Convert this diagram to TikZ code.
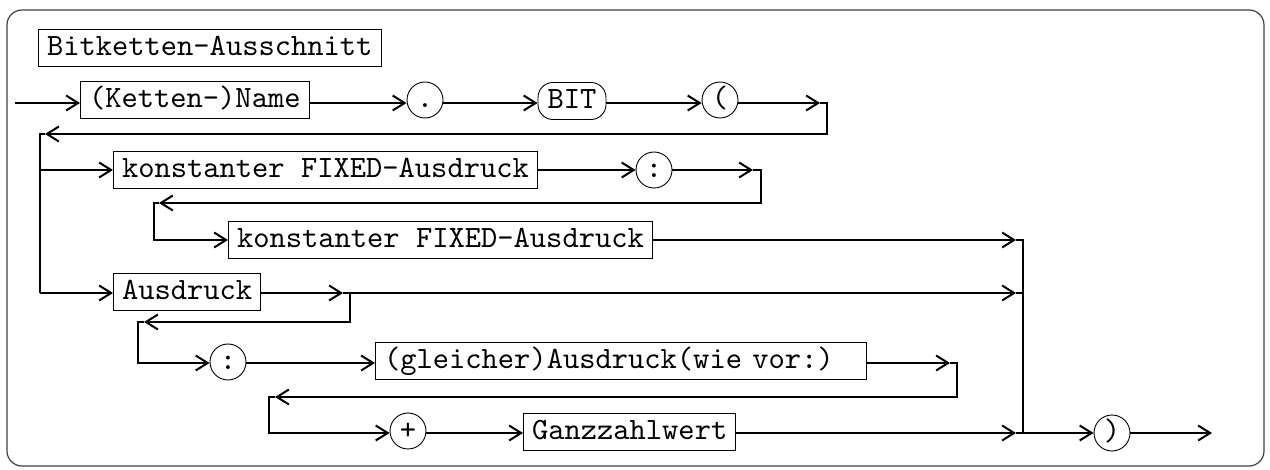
\documentclass[tikz,border=0pt]{standalone}
\usepackage{fontspec}
\setmonofont{lmmono10-regular.otf}
\usetikzlibrary{arrows.meta}
\begin{document}
\begin{tikzpicture}[x=1pt,y=-1pt,
  font=\fontsize{31}{37}\selectfont\ttfamily,
  tbox/.style={draw, line width=1pt, minimum height=37pt, inner xsep=8.5pt, inner ysep=0pt, anchor=west, text height=21pt, text depth=6pt},
  term/.style={draw, line width=0.9pt, circle, minimum size=36pt, inner sep=0pt, text height=21pt, text depth=5pt},
  kw/.style={draw, line width=0.9pt, rounded corners=15pt, minimum height=37pt, minimum width=68pt, inner sep=0pt, text height=21pt, text depth=6pt},
  conn/.style={line width=2.4pt, line join=miter},
  ->/.style={-{Straight Barb[length=12pt,width=15pt,line width=2pt]}},
  frame/.style={draw, line width=1.2pt, rounded corners=15pt, black!75}]
\useasboundingbox (0,0) rectangle (1270,470);
\draw[frame] (7,10) rectangle (1264,466);

\node[tbox] (title) at (38,48) {Bitketten-Ausschnitt};

% row 1
\coordinate (start) at (15,103);
\node[tbox] (name) at (80,100) {(Ketten-)Name};
\node[term] (dot) at (425,100) {.};
\node[kw] (bit) at (572,101) {BIT};
\node[term] (lp) at (720,100) {(};
\coordinate (a1) at (820,103);
\coordinate (c1) at (827,103);
\coordinate (c1b) at (827,134);
\coordinate (b1) at (45,134);
\coordinate (l1) at (40,134);
\coordinate (l2) at (40,170);
\coordinate (l3) at (40,293);

% row 2
\node[tbox] (fix1) at (113,170) {konstanter FIXED-Ausdruck};
\node[term] (col1) at (654,170) {:};
\coordinate (a2) at (753,170);
\coordinate (c2) at (761,170);
\coordinate (c2b) at (761,203);
\coordinate (b2) at (159,203);
\coordinate (l4) at (154,203);
\coordinate (l5) at (154,240);
\node[tbox] (fix2) at (228,240) {konstanter FIXED-Ausdruck};
\coordinate (a3) at (1016,240);
\coordinate (r1) at (1023,240);

% row Ausdruck
\node[tbox] (ausd) at (113,292) {Ausdruck};
\coordinate (a4) at (343,293);
\coordinate (c4) at (350,293);
\coordinate (a5) at (1016,293);
\coordinate (r2) at (1023,293);
\coordinate (c4b) at (350,322);
\coordinate (b4) at (144,322);
\coordinate (l6) at (138,322);
\coordinate (l7) at (138,363);
\node[term] (col2) at (228,362) {:};
\node[tbox, text width=474pt, align=left] (gl) at (375,361) {(gleicher)Ausdruck(wie vor:)};
\coordinate (a6) at (950,363);
\coordinate (c6) at (957,363);
\coordinate (c6b) at (957,397);
\coordinate (b6) at (275,397);
\coordinate (l8) at (269,397);
\coordinate (l9) at (269,433);
\node[term] (plus) at (408,431) {+};
\node[tbox] (ganz) at (523,432) {Ganzzahlwert};
\coordinate (a7) at (1016,433);
\coordinate (r3) at (1023,433);
\node[term] (rp) at (1112,433) {)};
\coordinate (end) at (1212,433);

% connectors row 1
\draw[conn,->] (start) -- (name.west |- start);
\draw[conn,->] (name.east |- start) -- (dot.west |- start);
\draw[conn,->] (dot.east |- start) -- (bit.west |- start);
\draw[conn,->] (bit.east |- start) -- (lp.west |- start);
\draw[conn,->] (lp.east |- start) -- (a1);
\draw[conn,->] (a1) -- (c1) -- (c1b) -- (b1);
\draw[conn] (b1) -- (l1) -- (l3);

% row 2
\draw[conn,->] (l2) -- (fix1);
\draw[conn,->] (fix1) -- (col1);
\draw[conn,->] (col1) -- (a2);
\draw[conn,->] (a2) -- (c2) -- (c2b) -- (b2);
\draw[conn,->] (b2) -- (l4) -- (l5) -- (fix2);
\draw[conn,->] (fix2) -- (a3);
\draw[conn] (a3) -- (r1) -- (r3);

% row Ausdruck
\draw[conn,->] (l3) -- (ausd.west |- l3);
\draw[conn,->] (ausd.east |- l3) -- (a4);
\draw[conn,->] (c4) -- (a5);
\draw[conn] (a5) -- (r2);
\draw[conn,->] (a4) -- (c4) -- (c4b) -- (b4);
\draw[conn,->] (b4) -- (l6) -- (l7) -- (col2.west |- l7);
\draw[conn,->] (col2.east |- l7) -- (gl.west |- l7);
\draw[conn,->] (gl.east |- l7) -- (a6);
\draw[conn,->] (a6) -- (c6) -- (c6b) -- (b6);
\draw[conn,->] (b6) -- (l8) -- (l9) -- (plus.west |- l9);
\draw[conn,->] (plus.east |- l9) -- (ganz.west |- l9);
\draw[conn,->] (ganz.east |- l9) -- (a7);
\draw[conn] (a7) -- (r3);
\draw[conn,->] (r3) -- (rp);
\draw[conn,->] (rp) -- (end);
\end{tikzpicture}
\end{document}
